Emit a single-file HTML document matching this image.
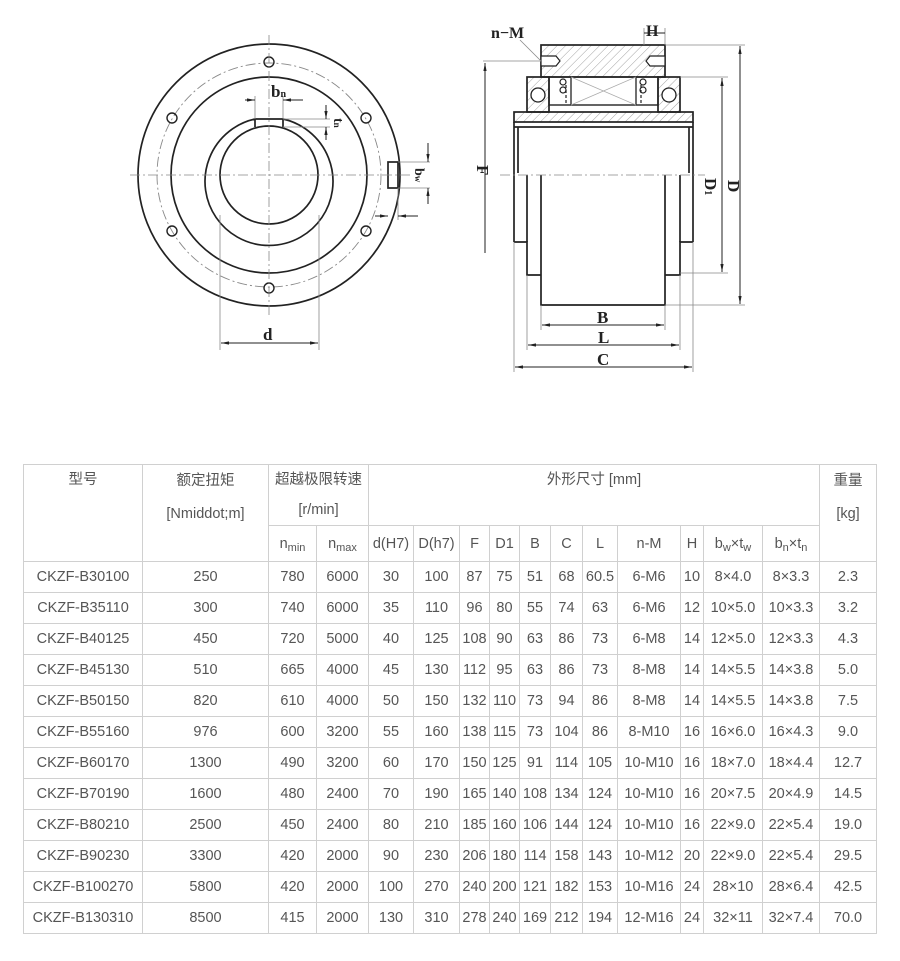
<!DOCTYPE html>
<html><head><meta charset="utf-8"><style>
html,body{margin:0;padding:0;background:#fff;width:900px;height:961px;overflow:hidden;position:relative}
svg{position:absolute;left:0;top:0}
table{position:absolute;left:23px;top:464px;border-collapse:collapse;table-layout:fixed;font-family:"Liberation Sans","Noto Sans CJK SC",sans-serif;font-size:14.5px;color:#555}
td{border:1px solid #d0d0d0;text-align:center;padding:0;height:30px;white-space:nowrap;overflow:hidden;line-height:16px}
.h td{vertical-align:top}
sub{font-size:11px;vertical-align:-3px;line-height:0}
</style></head><body>
<svg width="900" height="460" viewBox="0 0 900 460" font-family="Liberation Serif,serif" fill="none" stroke="#222">
<defs>
<pattern id="ht" width="6" height="6" patternUnits="userSpaceOnUse" patternTransform="rotate(45)"><line x1="0" y1="0" x2="0" y2="6" stroke="#999" stroke-width="0.9"/></pattern>
<marker id="a" viewBox="0 0 10 10" refX="10" refY="5" markerWidth="8" markerHeight="8" orient="auto-start-reverse"><path d="M0,3L10,5L0,7z" fill="#222" stroke="none"/></marker>
</defs>
<!-- left view -->
<g stroke-width="1.7">
<circle cx="269" cy="175" r="131"/>
<circle cx="269" cy="175" r="98"/>
<path d="M255 119 A64 64 0 1 0 283 119 L283 127 M255 119 L255 127 M255 119 L283 119"/>
<circle cx="269" cy="175" r="49"/>
<rect x="388" y="162" width="10" height="26"/>
</g>
<circle cx="269" cy="175" r="112" stroke="#888" stroke-dasharray="10 3 2 3" stroke-width="0.9"/>
<g stroke-width="1.4">
<circle cx="269" cy="62" r="5"/><circle cx="269" cy="288" r="5"/>
<circle cx="172" cy="118" r="5"/><circle cx="366" cy="118" r="5"/>
<circle cx="172" cy="231" r="5"/><circle cx="366" cy="231" r="5"/>
</g>
<g stroke="#888" stroke-width="0.8" stroke-dasharray="10 3 2 3">
<line x1="269" y1="35" x2="269" y2="315"/><line x1="130" y1="175" x2="410" y2="175"/>
</g>
<g stroke="#888" stroke-width="0.8">
<line x1="220" y1="215" x2="220" y2="350"/><line x1="319" y1="215" x2="319" y2="350"/>
<line x1="255" y1="96" x2="255" y2="119"/><line x1="283" y1="96" x2="283" y2="119"/>
<line x1="283" y1="119" x2="330" y2="119"/><line x1="283" y1="127" x2="330" y2="127"/>
<line x1="398" y1="162" x2="430" y2="162"/><line x1="398" y1="188" x2="430" y2="188"/>
<line x1="398" y1="188" x2="398" y2="220"/>
</g>
<g stroke="#222" stroke-width="1">
<line x1="221" y1="343" x2="318" y2="343" marker-start="url(#a)" marker-end="url(#a)"/>
<line x1="245" y1="100" x2="255" y2="100" marker-end="url(#a)"/><line x1="303" y1="100" x2="283" y2="100" marker-end="url(#a)"/>
<line x1="326" y1="105" x2="326" y2="119" marker-end="url(#a)"/><line x1="326" y1="140" x2="326" y2="127" marker-end="url(#a)"/>
<line x1="428" y1="143" x2="428" y2="162" marker-end="url(#a)"/><line x1="428" y1="204" x2="428" y2="188" marker-end="url(#a)"/>
<line x1="375" y1="216" x2="388" y2="216" marker-end="url(#a)"/><line x1="418" y1="216" x2="398" y2="216" marker-end="url(#a)"/>
</g>
<g fill="#222" stroke="none" font-size="17" font-weight="bold">
<text x="263" y="340">d</text>
<text x="271" y="97">b<tspan font-size="10">n</tspan></text>
<text transform="translate(334,118) rotate(90)" font-size="14">t<tspan font-size="9">n</tspan></text>
<text transform="translate(415,168) rotate(90)" font-size="14">b<tspan font-size="9">w</tspan></text>
</g>
<!-- right view -->
<rect x="541" y="45" width="124" height="32" fill="url(#ht)" stroke="#222" stroke-width="1.7"/>
<g stroke="#222" stroke-width="1.2" fill="#fff">
<path d="M541 56 H556 L560 61 L556 66 H541 Z"/><path d="M665 56 H650 L646 61 L650 66 H665 Z"/>
</g>
<rect x="527" y="77" width="22" height="35" fill="url(#ht)" stroke="#222" stroke-width="1.7"/>
<rect x="658" y="77" width="22" height="35" fill="url(#ht)" stroke="#222" stroke-width="1.7"/>
<circle cx="538" cy="95" r="7" fill="#fff" stroke-width="1.3"/><circle cx="669" cy="95" r="7" fill="#fff" stroke-width="1.3"/>
<rect x="549" y="77" width="109" height="28" stroke-width="1.4"/>
<line x1="571" y1="77" x2="571" y2="105" stroke-width="1.3"/><line x1="636" y1="77" x2="636" y2="105" stroke-width="1.3"/>
<path d="M571 77 L636 105 M571 105 L636 77" stroke="#aaa" stroke-width="0.8"/>
<g stroke="#222" stroke-width="1.2"><circle cx="563" cy="82" r="3"/><circle cx="563" cy="90" r="3"/><line x1="566" y1="85" x2="566" y2="103" stroke-dasharray="3 2"/>
<circle cx="643" cy="82" r="3"/><circle cx="643" cy="90" r="3"/><line x1="641" y1="85" x2="641" y2="103" stroke-dasharray="3 2"/></g>
<rect x="514" y="112" width="179" height="10" fill="url(#ht)" stroke="#222" stroke-width="1.7"/>
<g stroke="#222" stroke-width="1.7">
<line x1="514" y1="122" x2="514" y2="242"/><line x1="693" y1="122" x2="693" y2="242"/>
<line x1="514" y1="127" x2="693" y2="127"/>
<line x1="518" y1="127" x2="518" y2="173"/><line x1="689" y1="127" x2="689" y2="173"/>
<path d="M514 242 H527 V275 H541"/><path d="M693 242 H680 V275 H665"/>
<line x1="527" y1="175" x2="527" y2="242"/><line x1="680" y1="175" x2="680" y2="242"/>
<path d="M541 175 V305 H665 V175"/>
</g>
<line x1="500" y1="175" x2="705" y2="175" stroke="#888" stroke-width="0.8" stroke-dasharray="10 3 2 3"/>
<g stroke="#888" stroke-width="0.8">
<line x1="541" y1="305" x2="541" y2="330"/><line x1="665" y1="305" x2="665" y2="330"/>
<line x1="527" y1="275" x2="527" y2="350"/><line x1="680" y1="275" x2="680" y2="350"/>
<line x1="514" y1="242" x2="514" y2="372"/><line x1="693" y1="242" x2="693" y2="372"/>
<line x1="665" y1="45" x2="745" y2="45"/><line x1="680" y1="77" x2="728" y2="77"/>
<line x1="680" y1="273" x2="728" y2="273"/><line x1="665" y1="305" x2="745" y2="305"/>
<line x1="483" y1="61" x2="541" y2="61"/><line x1="541" y1="61" x2="520" y2="40"/>
<line x1="644" y1="28" x2="644" y2="45"/><line x1="665" y1="28" x2="665" y2="45"/>
</g>
<g stroke="#222" stroke-width="1">
<line x1="542" y1="325" x2="664" y2="325" marker-start="url(#a)" marker-end="url(#a)"/>
<line x1="528" y1="345" x2="679" y2="345" marker-start="url(#a)" marker-end="url(#a)"/>
<line x1="515" y1="367" x2="692" y2="367" marker-start="url(#a)" marker-end="url(#a)"/>
<line x1="485" y1="63" x2="485" y2="253" marker-start="url(#a)"/>
<line x1="722" y1="78" x2="722" y2="272" marker-start="url(#a)" marker-end="url(#a)"/>
<line x1="740" y1="46" x2="740" y2="304" marker-start="url(#a)" marker-end="url(#a)"/>
<line x1="644" y1="33" x2="665" y2="33"/>
</g>
<g fill="#222" stroke="none" font-size="17" font-weight="bold">
<text x="597" y="323">B</text><text x="598" y="343">L</text><text x="597" y="365">C</text>
<text x="491" y="38" font-size="16">n−M</text><text x="646" y="36" font-size="16">H</text>
<text transform="translate(477,165) rotate(90)">F</text>
<text transform="translate(705,178) rotate(90)">D<tspan font-size="10">1</tspan></text>
<text transform="translate(728,180) rotate(90)">D</text>
</g>
</svg>
<table>
<colgroup><col style="width:119px"><col style="width:126px"><col style="width:48px"><col style="width:52px"><col style="width:45px"><col style="width:46px"><col style="width:30px"><col style="width:30px"><col style="width:31px"><col style="width:32px"><col style="width:35px"><col style="width:63px"><col style="width:23px"><col style="width:59px"><col style="width:57px"><col style="width:57px"></colgroup>
<tr class="h" style="height:60px"><td rowspan="2" style="line-height:30px;height:60px">型号</td><td rowspan="2" style="line-height:33px">额定扭矩<br>[Nmiddot;m]</td><td colspan="2" style="line-height:30px;height:60px">超越极限转速<br>[r/min]</td><td colspan="11" style="line-height:30px;height:60px">外形尺寸 [mm]</td><td rowspan="2" style="line-height:33px">重量<br>[kg]</td></tr>
<tr style="height:36px"><td style="height:35px">n<sub>min</sub></td><td>n<sub>max</sub></td><td>d(H7)</td><td>D(h7)</td><td>F</td><td>D1</td><td>B</td><td>C</td><td>L</td><td>n-M</td><td>H</td><td>b<sub>w</sub>×t<sub>w</sub></td><td>b<sub>n</sub>×t<sub>n</sub></td></tr>
<tr><td>CKZF-B30100</td><td>250</td><td>780</td><td>6000</td><td>30</td><td>100</td><td>87</td><td>75</td><td>51</td><td>68</td><td>60.5</td><td>6-M6</td><td>10</td><td>8×4.0</td><td>8×3.3</td><td>2.3</td></tr>
<tr><td>CKZF-B35110</td><td>300</td><td>740</td><td>6000</td><td>35</td><td>110</td><td>96</td><td>80</td><td>55</td><td>74</td><td>63</td><td>6-M6</td><td>12</td><td>10×5.0</td><td>10×3.3</td><td>3.2</td></tr>
<tr><td>CKZF-B40125</td><td>450</td><td>720</td><td>5000</td><td>40</td><td>125</td><td>108</td><td>90</td><td>63</td><td>86</td><td>73</td><td>6-M8</td><td>14</td><td>12×5.0</td><td>12×3.3</td><td>4.3</td></tr>
<tr><td>CKZF-B45130</td><td>510</td><td>665</td><td>4000</td><td>45</td><td>130</td><td>112</td><td>95</td><td>63</td><td>86</td><td>73</td><td>8-M8</td><td>14</td><td>14×5.5</td><td>14×3.8</td><td>5.0</td></tr>
<tr><td>CKZF-B50150</td><td>820</td><td>610</td><td>4000</td><td>50</td><td>150</td><td>132</td><td>110</td><td>73</td><td>94</td><td>86</td><td>8-M8</td><td>14</td><td>14×5.5</td><td>14×3.8</td><td>7.5</td></tr>
<tr><td>CKZF-B55160</td><td>976</td><td>600</td><td>3200</td><td>55</td><td>160</td><td>138</td><td>115</td><td>73</td><td>104</td><td>86</td><td>8-M10</td><td>16</td><td>16×6.0</td><td>16×4.3</td><td>9.0</td></tr>
<tr><td>CKZF-B60170</td><td>1300</td><td>490</td><td>3200</td><td>60</td><td>170</td><td>150</td><td>125</td><td>91</td><td>114</td><td>105</td><td>10-M10</td><td>16</td><td>18×7.0</td><td>18×4.4</td><td>12.7</td></tr>
<tr><td>CKZF-B70190</td><td>1600</td><td>480</td><td>2400</td><td>70</td><td>190</td><td>165</td><td>140</td><td>108</td><td>134</td><td>124</td><td>10-M10</td><td>16</td><td>20×7.5</td><td>20×4.9</td><td>14.5</td></tr>
<tr><td>CKZF-B80210</td><td>2500</td><td>450</td><td>2400</td><td>80</td><td>210</td><td>185</td><td>160</td><td>106</td><td>144</td><td>124</td><td>10-M10</td><td>16</td><td>22×9.0</td><td>22×5.4</td><td>19.0</td></tr>
<tr><td>CKZF-B90230</td><td>3300</td><td>420</td><td>2000</td><td>90</td><td>230</td><td>206</td><td>180</td><td>114</td><td>158</td><td>143</td><td>10-M12</td><td>20</td><td>22×9.0</td><td>22×5.4</td><td>29.5</td></tr>
<tr><td>CKZF-B100270</td><td>5800</td><td>420</td><td>2000</td><td>100</td><td>270</td><td>240</td><td>200</td><td>121</td><td>182</td><td>153</td><td>10-M16</td><td>24</td><td>28×10</td><td>28×6.4</td><td>42.5</td></tr>
<tr><td>CKZF-B130310</td><td>8500</td><td>415</td><td>2000</td><td>130</td><td>310</td><td>278</td><td>240</td><td>169</td><td>212</td><td>194</td><td>12-M16</td><td>24</td><td>32×11</td><td>32×7.4</td><td>70.0</td></tr>
</table>
</body></html>
